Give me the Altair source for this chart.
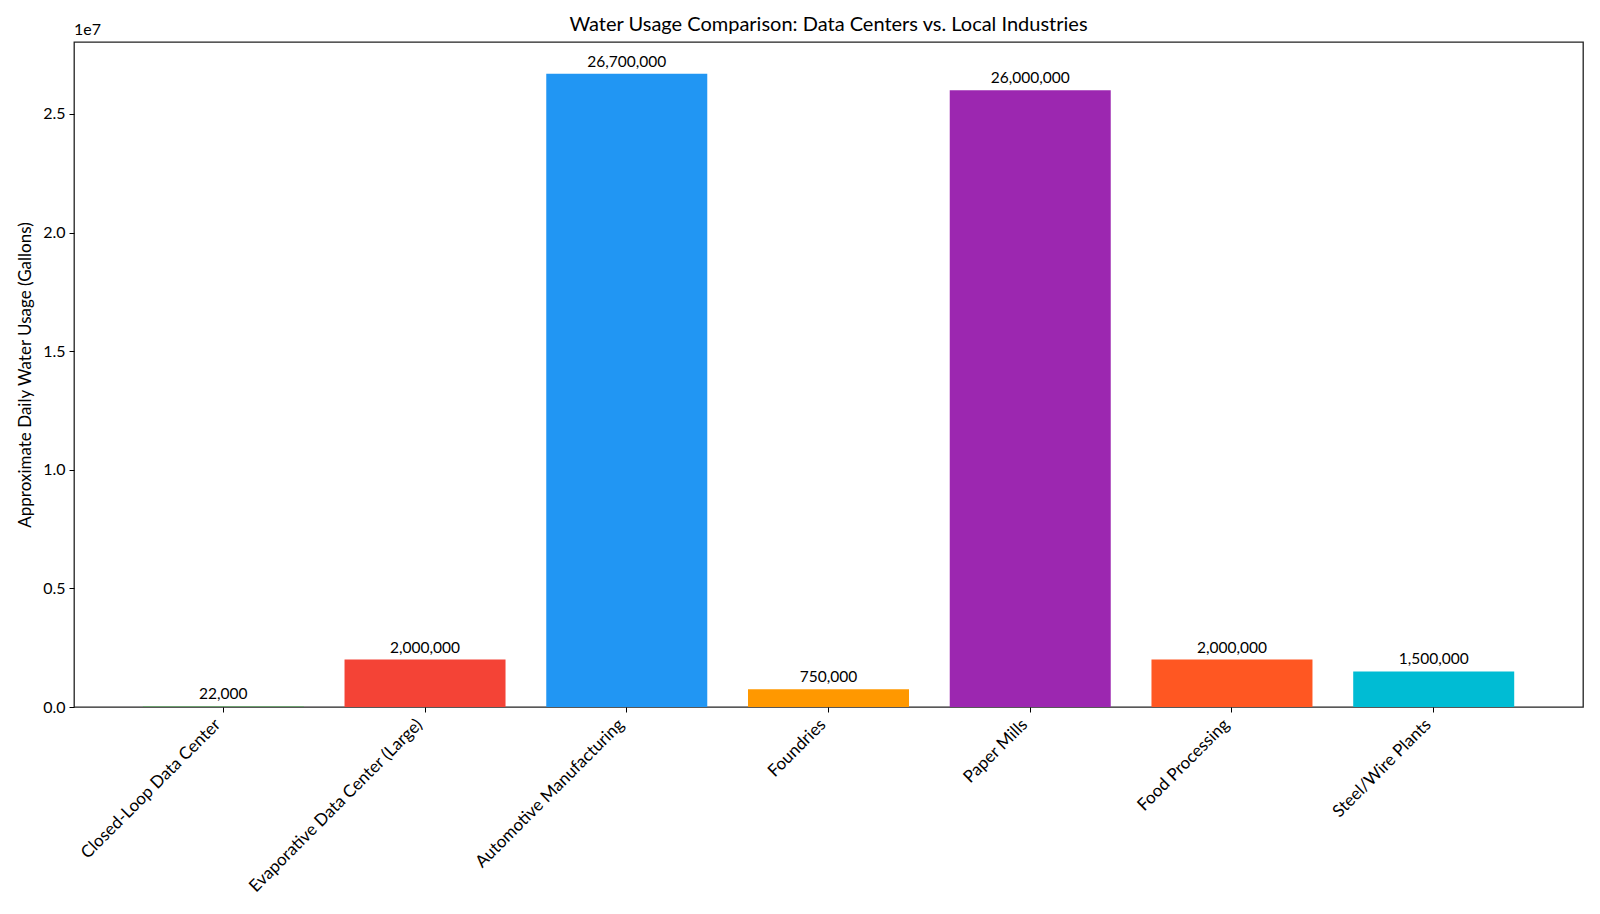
import altair as alt
import pandas as pd

categories = [
    "Closed-Loop Data Center",
    "Evaporative Data Center (Large)",
    "Automotive Manufacturing",
    "Foundries",
    "Paper Mills",
    "Food Processing",
    "Steel/Wire Plants",
]
daily_gallons = [22000, 2000000, 26700000, 750000, 26000000, 2000000, 1500000]
bar_colors = ["#4CAF50", "#F44336", "#2196F3", "#FF9800", "#9C27B0", "#FF5722", "#00BCD4"]
chart_title = "Water Usage Comparison: Data Centers vs. Local Industries"

df = pd.DataFrame({"category": categories, "gallons": daily_gallons, "color": bar_colors})

FONT = "Lato"
W, H = 1509, 665

x_enc = alt.X(
    "category:N",
    sort=categories,
    title=None,
    scale=alt.Scale(paddingInner=0.2, paddingOuter=0.34),
    axis=alt.Axis(
        labelAngle=-45,
        labelAlign="right",
        labelBaseline="top",
        labelFontSize=17,
        labelColor="#000",
        labelPadding=4,
        labelOffset=-11,
        labelLimit=0,
        tickSize=5,
        tickColor="#000",
        domain=False,
    ),
)
y_enc = alt.Y(
    "gallons:Q",
    title="Approximate Daily Water Usage (Gallons)",
    scale=alt.Scale(domain=[0, 28035000], nice=False),
    axis=alt.Axis(
        values=[0, 5000000, 10000000, 15000000, 20000000, 25000000],
        labelExpr="format(datum.value / 1e7, '.1f')",
        labelFontSize=16,
        labelColor="#000",
        labelPadding=4,
        tickSize=5,
        tickColor="#000",
        grid=False,
        domain=False,
        titleFontSize=17,
        titleFontWeight="normal",
        titleColor="#000",
        titlePadding=8,
    ),
)

bars = alt.Chart(df).mark_bar(size=161).encode(
    x=x_enc,
    y=y_enc,
    color=alt.Color("color:N", scale=None),
)

labels = alt.Chart(df).mark_text(
    baseline="bottom", dy=-4, fontSize=15.5, font=FONT, color="#000"
).encode(
    x=alt.X("category:N", sort=categories),
    y="gallons:Q",
    text=alt.Text("gallons:Q", format=","),
)

exponent = alt.Chart(pd.DataFrame({"t": ["1e7"]})).mark_text(
    align="left", baseline="bottom", fontSize=16, font=FONT, color="#000"
).encode(
    x=alt.value(0),
    y=alt.value(-4),
    text="t:N",
)

heading = alt.Chart(pd.DataFrame({"t": [chart_title]})).mark_text(
    align="center", baseline="middle", fontSize=20, font=FONT, color="#000"
).encode(
    x=alt.value(W / 2),
    y=alt.value(-17),
    text="t:N",
)

chart = (
    alt.layer(bars, labels, exponent, heading)
    .properties(
        width=W,
        height=H,
        autosize=alt.AutoSizeParams(type="none"),
        padding={"left": 74, "top": 42, "right": 17, "bottom": 207},
    )
    .configure(font=FONT, background="white")
    .configure_view(stroke="#222", strokeWidth=1.3)
)

chart.save("out.html", embed_options={"renderer": "svg", "actions": False})
